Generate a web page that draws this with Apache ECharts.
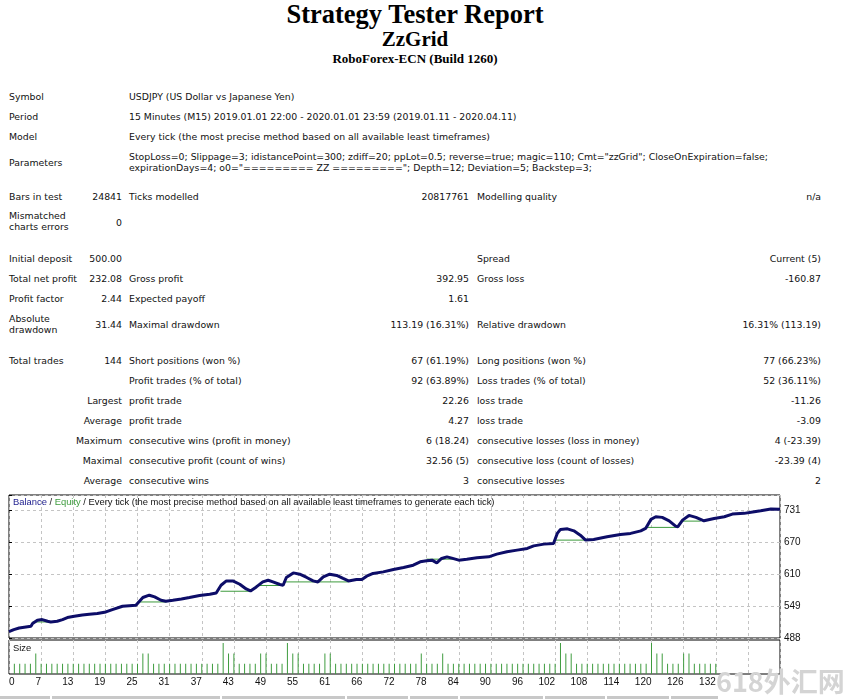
<!DOCTYPE html>
<html>
<head>
    <meta charset="utf-8">
    <title>Strategy Tester Report</title>
    <script src="https://cdn.jsdelivr.net/npm/echarts@6/dist/echarts.min.js"></script>
    <style>
        html, body { margin: 0; padding: 0; background: #fff; }
        body { position: relative; width: 847px; height: 699px; overflow: hidden; color: #111; }
        .t { position: absolute; white-space: pre; line-height: 13px; font: 9.35px 'DejaVu Sans', 'Liberation Sans', sans-serif; }
        .h { position: absolute; left: 0; width: 830px; text-align: center; font-family: 'Liberation Serif', serif; font-weight: bold; color: #000; }
        .cell { position: absolute; top: 696px; height: 3px; background: #c8c8c8; }
        #mark { position: absolute; left: 716px; top: 666px; white-space: nowrap; font: bold 27px 'Noto Sans CJK SC', sans-serif; color: #d4d4d4; line-height: 30px; }
    </style>
</head>
<body>
    <div class="h" style="top:0;font-size:26.5px;line-height:28px;">Strategy Tester Report</div>
    <div class="h" style="top:28px;font-size:21px;line-height:22px;">ZzGrid</div>
    <div class="h" style="top:51px;font-size:13px;line-height:16px;">RoboForex-ECN (Build 1260)</div>

    <!-- chart area: balance/equity panel + size panel -->
    <div id="main" style="position:absolute;left:0;top:488px;width:847px;height:206px;"></div>
    <div id="mark">618外汇网</div>
    <script type="text/javascript">
        // report rows: y, then six columns (label, value, label, value, label, value)
        var reportRows = [
            [97, 'Symbol', '', 'USDJPY (US Dollar vs Japanese Yen)'],
            [117, 'Period', '', '15 Minutes (M15) 2019.01.01 22:00 - 2020.01.01 23:59 (2019.01.11 - 2020.04.11)'],
            [137, 'Model', '', 'Every tick (the most precise method based on all available least timeframes)'],
            [163.5, 'Parameters', '', 'StopLoss=0; Slippage=3; idistancePoint=300; zdiff=20; ppLot=0.5; reverse=true; magic=110; Cmt="zzGrid"; CloseOnExpiration=false;\nexpirationDays=4; o0="========= ZZ ========="; Depth=12; Deviation=5; Backstep=3;'],
            [197, 'Bars in test', '24841', 'Ticks modelled', '20817761', 'Modelling quality', 'n/a'],
            [223, 'Mismatched\ncharts errors', '0'],
            [259, 'Initial deposit', '500.00', '', '', 'Spread', 'Current (5)'],
            [279, 'Total net profit', '232.08', 'Gross profit', '392.95', 'Gross loss', '-160.87'],
            [299, 'Profit factor', '2.44', 'Expected payoff', '1.61'],
            [325.5, 'Absolute\ndrawdown', '31.44', 'Maximal drawdown', '113.19 (16.31%)', 'Relative drawdown', '16.31% (113.19)'],
            [361, 'Total trades', '144', 'Short positions (won %)', '67 (61.19%)', 'Long positions (won %)', '77 (66.23%)'],
            [381, '', '', 'Profit trades (% of total)', '92 (63.89%)', 'Loss trades (% of total)', '52 (36.11%)'],
            [401, '', 'Largest', 'profit trade', '22.26', 'loss trade', '-11.26'],
            [421, '', 'Average', 'profit trade', '4.27', 'loss trade', '-3.09'],
            [441, '', 'Maximum', 'consecutive wins (profit in money)', '6 (18.24)', 'consecutive losses (loss in money)', '4 (-23.39)'],
            [461, '', 'Maximal', 'consecutive profit (count of wins)', '32.56 (5)', 'consecutive loss (count of losses)', '-23.39 (4)'],
            [481, '', 'Average', 'consecutive wins', '3', 'consecutive losses', '2']
        ];
        var colX = [9, 122, 129, 469, 477, 821];
        var colRight = [false, true, false, true, false, true];

        reportRows.forEach(function (row) {
            for (var c = 0; c < 6; c++) {
                var txt = row[c + 1];
                if (!txt) continue;
                var d = document.createElement('div');
                d.className = 't';
                d.textContent = txt;
                var n = txt.split('\n').length;
                d.style.top = (row[0] - n * 13 / 2) + 'px';
                if (colRight[c]) d.style.right = (847 - colX[c]) + 'px';
                else d.style.left = colX[c] + 'px';
                document.body.appendChild(d);
            }
        });

        // header cells of the next table, just peeking in at the bottom
        var cellEdges = [[0, 50], [52, 220], [222, 345], [347, 408], [410, 458], [460, 543], [545, 605], [607, 669], [671, 718]];
        cellEdges.forEach(function (e) {
            var d = document.createElement('div');
            d.className = 'cell';
            d.style.left = e[0] + 'px';
            d.style.width = (e[1] - e[0]) + 'px';
            document.body.appendChild(d);
        });

        // ---- chart data ----
        var totalTrades = 144;
        var xTickLabels = ['0', '7', '13', '19', '25', '31', '37', '43', '49', '55', '61', '66', '72',
            '78', '84', '90', '96', '102', '108', '114', '120', '126', '132', '', ''];
        var yTickLabels = [488, 549, 610, 670, 731];
        var yStep = 60.75;

        // balance curve, trade number / money
        var balanceIdx = [0, 0.9, 1.9, 4.1, 4.4, 5.3, 6.2, 7.2, 7.8, 9.0,
            10.0, 10.9, 12.2, 13.7, 15.0, 16.5, 18.1, 19.3, 21.2, 23.7,
            24.0, 25.0, 26.2, 27.2, 28.4, 29.3, 30.6, 32.2, 33.7, 35.6,
            37.5, 38.7, 39.6, 40.6, 41.8, 43.1, 44.3, 45.1, 46.2, 47.4,
            48.4, 49.3, 50.6, 51.2, 51.8, 53.1, 54.3, 55.6, 56.8, 57.7,
            58.7, 59.9, 61.2, 62.4, 63.4, 64.9, 65.9, 66.8, 68.0, 69.9,
            71.8, 73.7, 75.5, 76.8, 78.0, 79.0, 79.9, 80.8, 81.8, 82.7,
            84.0, 85.5, 87.4, 89.6, 91.1, 93.0, 94.9, 96.8, 98.0, 99.9,
            101.7, 102.4, 103.0, 104.3, 105.5, 106.7, 107.7, 109.2, 111.7, 114.2,
            116.1, 118.0, 118.9, 119.9, 120.8, 122.0, 123.3, 124.5, 124.9, 125.8,
            127.0, 128.3, 129.8, 131.7, 133.6, 135.1, 137.3, 139.2, 140.4, 142.3,
            144];
        var balanceVal = [500.0, 503.9, 507.0, 510.2, 515.3, 521.6, 522.9, 519.7, 518.4, 519.7,
            522.9, 526.7, 529.2, 531.7, 533.0, 534.3, 537.4, 541.9, 548.2, 550.1,
            552.0, 564.7, 569.1, 565.8, 559.6, 557.7, 559.6, 562.0, 564.7, 568.5,
            571.0, 573.4, 588.0, 596.2, 596.2, 589.9, 581.0, 577.2, 584.8, 594.3,
            597.5, 594.3, 589.4, 588.0, 602.7, 611.4, 608.9, 602.7, 596.2, 594.3,
            603.8, 608.9, 606.5, 600.8, 596.2, 598.9, 598.9, 605.1, 610.3, 613.3,
            617.9, 621.6, 626.0, 632.3, 634.2, 635.5, 630.4, 638.7, 641.8, 639.3,
            635.5, 637.4, 639.9, 641.8, 646.9, 651.3, 654.5, 657.7, 662.6, 665.9,
            667.2, 686.2, 693.8, 694.9, 691.1, 682.9, 673.5, 674.8, 679.7, 684.3,
            686.2, 691.1, 695.7, 712.8, 717.7, 716.6, 710.1, 700.0, 698.7, 711.4,
            720.3, 716.5, 710.1, 714.6, 717.7, 722.8, 724.2, 727.2, 729.1, 732.3,
            732.08];

        // equity flats under the humps
        var equityFrom = [4.4, 24.0, 39.5, 46.1, 51.2, 78.0, 102.1, 118.9, 125.5];
        var equityTo = [7.8, 29.4, 45.1, 51.2, 63.4, 83.6, 107.7, 124.7, 129.2];
        var equityLevel = [518.4, 556.3, 576.6, 587.5, 594.3, 637.4, 673.5, 697.6, 709.5];

        // lot size per trade 1..132
        var sizeLots = [
            0.5, 0.5, 0.5, 0.5, 1.0, 0.5, 0.5, 0.5, 0.5, 0.5,
            0.5, 0.5, 0.5, 0.5, 0.5, 0.5, 0.5, 0.5, 0.5, 0.5,
            0.5, 0.5, 0.5, 0.5, 1.0, 1.0, 0.5, 0.5, 0.5, 0.5,
            0.5, 0.5, 0.5, 0.5, 0.5, 0.5, 0.5, 0.5, 0.5, 1.5,
            1.0, 1.0, 0.5, 0.5, 0.5, 0.5, 1.0, 1.0, 0.5, 0.5,
            0.5, 1.5, 1.0, 1.0, 0.5, 0.5, 0.5, 0.5, 1.0, 1.0,
            0.5, 0.5, 0.5, 0.5, 0.5, 0.5, 0.5, 0.5, 0.5, 0.5,
            0.5, 0.5, 0.5, 0.5, 0.5, 0.5, 1.0, 0.5, 0.5, 0.5,
            1.0, 0.5, 0.5, 0.5, 0.5, 0.5, 0.5, 0.5, 0.5, 0.5,
            0.5, 0.5, 0.5, 0.5, 0.5, 0.5, 0.5, 0.5, 0.5, 0.5,
            0.5, 0.5, 1.5, 1.0, 1.0, 0.5, 0.5, 0.5, 0.5, 0.5,
            0.5, 0.5, 0.5, 0.5, 0.5, 0.5, 0.5, 0.5, 0.5, 1.5,
            1.0, 1.0, 0.5, 0.5, 0.5, 1.0, 1.0, 0.5, 0.5, 0.5,
            0.5, 0.5];

        // y axis is drawn relative to the first tick label so ticks start at 0
        var yBase = yTickLabels[0];
        var balanceData = balanceIdx.map(function (x, i) { return [x, balanceVal[i] - yBase]; });
        var sizeData = sizeLots.map(function (v, i) { return [i + 1, v]; });

        var gridLine = { lineStyle: { color: '#c4c4c4', width: 1, type: [3, 3] } };

        var series = equityFrom.map(function (x0, i) {
            return {
                name: 'Equity', type: 'line', xAxisIndex: 0, yAxisIndex: 0,
                data: [[x0, equityLevel[i] - yBase], [equityTo[i], equityLevel[i] - yBase]],
                symbol: 'none', silent: true, z: 2,
                lineStyle: { color: '#3d9b3d', width: 1 }
            };
        });
        series.push({
            name: 'Balance', type: 'line', xAxisIndex: 0, yAxisIndex: 0,
            data: balanceData, symbol: 'none', z: 3,
            lineStyle: { color: '#0d0d68', width: 3 }
        });
        series.push({
            name: 'Size', type: 'bar', xAxisIndex: 1, yAxisIndex: 1,
            data: sizeData, barWidth: 1, z: 2,
            itemStyle: { color: '#3f9c3f' }
        });

        var myChart = echarts.init(document.getElementById('main'));
        var option = {
            animation: false,
            textStyle: { fontFamily: 'Liberation Sans' },
            title: {
                text: '{b|Balance} / {e|Equity} / Every tick (the most precise method based on all available least timeframes to generate each tick)',
                left: 13, top: 10, padding: 0,
                textStyle: {
                    fontSize: 9.4, fontWeight: 'normal', color: '#111',
                    rich: {
                        b: { color: '#1d1d8e', fontSize: 9.4 },
                        e: { color: '#3d9b3d', fontSize: 9.4 }
                    }
                }
            },
            graphic: [{
                type: 'text', left: 13, top: 156,
                style: { text: 'Size', font: '9.4px "Liberation Sans"', fill: '#111' }
            }],
            grid: [
                { left: 9, top: 7, width: 771, height: 143, show: true, borderColor: '#000', borderWidth: 1, backgroundColor: '#fff' },
                { left: 9, top: 152, width: 771, height: 34, show: true, borderColor: '#000', borderWidth: 1, backgroundColor: '#fff' }
            ],
            xAxis: [
                {
                    gridIndex: 0, type: 'value', min: 0, max: totalTrades, interval: 6,
                    axisLine: { show: false }, axisTick: { show: false }, axisLabel: { show: false },
                    splitLine: gridLine
                },
                {
                    gridIndex: 1, type: 'value', min: 0, max: totalTrades, interval: 6,
                    axisLine: { show: false }, axisTick: { show: false },
                    axisLabel: {
                        margin: 3, fontSize: 10, color: '#111', align: 'right', alignMinLabel: 'left',
                        showMaxLabel: true,
                        formatter: function (v) {
                            var s = xTickLabels[Math.round(v / 6)];
                            return s === undefined ? '' : s;
                        }
                    },
                    splitLine: gridLine
                }
            ],
            yAxis: [
                {
                    gridIndex: 0, type: 'value', position: 'right',
                    min: 0, max: 271, interval: yStep,
                    axisLine: { show: false },
                    axisTick: { show: true, length: 3, lineStyle: { color: '#000' } },
                    axisLabel: {
                        margin: 4, fontSize: 10, color: '#111',
                        formatter: function (v) {
                            var k = v / yStep;
                            if (Math.abs(k - Math.round(k)) > 0.01) return '';
                            var s = yTickLabels[Math.round(k)];
                            return s === undefined ? '' : String(s);
                        }
                    },
                    splitLine: gridLine
                },
                { gridIndex: 1, type: 'value', min: 0, max: 1.65, show: false }
            ],
            series: series
        };
        myChart.setOption(option);
    </script>
</body>
</html>
